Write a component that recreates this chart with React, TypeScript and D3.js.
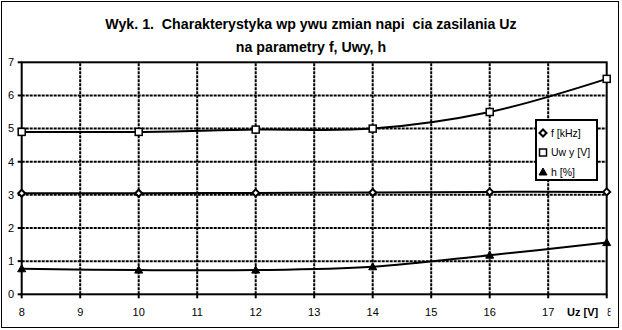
import React from "react";
import * as d3 from "d3";

const uz = [8, 10, 12, 14, 16, 18];
const fVals = [3.05, 3.05, 3.06, 3.07, 3.09, 3.09];
const uwyVals = [4.9, 4.9, 4.97, 5.0, 5.5, 6.5];
const hVals = [0.77, 0.73, 0.73, 0.83, 1.18, 1.56];
const xTicks = [8, 9, 10, 11, 12, 13, 14, 15, 16, 17, 18];
const yTicks = [0, 1, 2, 3, 4, 5, 6, 7];
const titleLines = [
  "Wyk. 1.  Charakterystyka wp ywu zmian napi  cia zasilania Uz",
  "na parametry f, Uwy, h",
];
const legendLabels = ["f [kHz]", "Uw y [V]", "h [%]"];
const xAxisTitle = "Uz [V]";

const W = 622;
const H = 330;
const FONT = "'Liberation Sans', Arial, sans-serif";

function Marker({ kind, x, y }: { kind: number; x: number; y: number }) {
  if (kind === 0) {
    const s = 3.5;
    return (
      <path
        d={`M${x},${y - s}L${x + s},${y}L${x},${y + s}L${x - s},${y}Z`}
        fill="#fff"
        stroke="#000"
        strokeWidth={2}
      />
    );
  }
  if (kind === 1) {
    return <rect x={x - 3.5} y={y - 3.5} width={7} height={7} fill="#fff" stroke="#000" strokeWidth={1.5} />;
  }
  return <path d={`M${x},${y - 4}L${x + 4},${y + 3}L${x - 4},${y + 3}Z`} fill="#000" stroke="#000" strokeWidth={1} />;
}

export default function App() {
  const x = d3.scaleLinear().domain([8, 18]).range([21.7, 606.7]);
  const y = d3.scaleLinear().domain([0, 7]).range([294.3, 62.3]);
  const series = [fVals, uwyVals, hVals];
  const line = d3
    .line<number>()
    .x((_, i) => x(uz[i]))
    .y((d) => y(d))
    .curve(d3.curveCatmullRom.alpha(0.5));

  return (
    <div style={{ position: "fixed", left: 0, top: 0 }}>
      <svg width={W} height={H} style={{ display: "block", fontFamily: FONT }}>
        <defs>
          <clipPath id="lastClip">
            <rect x={607.5} y={300} width={3} height={25} />
          </clipPath>
        </defs>
        <rect x={0} y={0} width={W} height={H} fill="#fff" />
        <rect x={1.5} y={1.5} width={617} height={326} fill="none" stroke="#000" strokeWidth={1} />
        {titleLines.map((t, i) => (
          <text
            key={i}
            x={311}
            y={28.5 + i * 23}
            textAnchor="middle"
            fontSize={14.2}
            fontWeight="bold"
            fill="#000"
            style={{ whiteSpace: "pre" }}
          >
            {t}
          </text>
        ))}
        {/* grid */}
        {yTicks.slice(1, -1).map((v) => (
          <line key={"gy" + v} x1={x(8)} x2={x(18)} y1={y(v)} y2={y(v)} stroke="#000" strokeWidth={2} strokeDasharray="3,1" />
        ))}
        {xTicks.slice(1, -1).map((v) => (
          <line key={"gx" + v} x1={x(v)} x2={x(v)} y1={y(0)} y2={y(7)} stroke="#000" strokeWidth={2} strokeDasharray="3,1" />
        ))}
        {/* border */}
        <rect x={x(8)} y={y(7)} width={x(18) - x(8)} height={y(0) - y(7)} fill="none" stroke="#000" strokeWidth={2} />
        {/* ticks */}
        {yTicks.map((v) => (
          <g key={"ty" + v}>
            <line x1={x(8) - 4} x2={x(8)} y1={y(v)} y2={y(v)} stroke="#000" strokeWidth={2} />
            <text x={14} y={y(v)} dy="0.35em" textAnchor="end" fontSize={11} fill="#000">
              {v}
            </text>
          </g>
        ))}
        {xTicks.map((v, i) => (
          <g key={"tx" + v}>
            <line x1={x(v)} x2={x(v)} y1={y(0)} y2={y(0) + 4} stroke="#000" strokeWidth={2} />
            <text
              x={x(v)}
              y={312}
              dy="0.35em"
              textAnchor="middle"
              fontSize={11}
              fill="#000"
              clipPath={i === xTicks.length - 1 ? "url(#lastClip)" : undefined}
            >
              {v}
            </text>
          </g>
        ))}
        <text x={567} y={312} dy="0.35em" fontSize={11} fontWeight="bold" fill="#000">
          {xAxisTitle}
        </text>
        {/* series */}
        {series.map((s, k) => (
          <g key={"s" + k}>
            <path d={line(s) || ""} fill="none" stroke="#000" strokeWidth={2} />
            {s.map((v, i) => (
              <Marker key={i} kind={k} x={x(uz[i])} y={y(v)} />
            ))}
          </g>
        ))}
        {/* legend */}
        <rect x={536} y={120} width={61} height={60} fill="#fff" stroke="#000" strokeWidth={2} />
        {legendLabels.map((l, i) => (
          <g key={"l" + i}>
            <Marker kind={i} x={543} y={133 + i * 19.5} />
            <text x={551} y={133 + i * 19.5} dy="0.35em" fontSize={10.5} fill="#000" style={{ whiteSpace: "pre" }}>
              {l}
            </text>
          </g>
        ))}
      </svg>
    </div>
  );
}
